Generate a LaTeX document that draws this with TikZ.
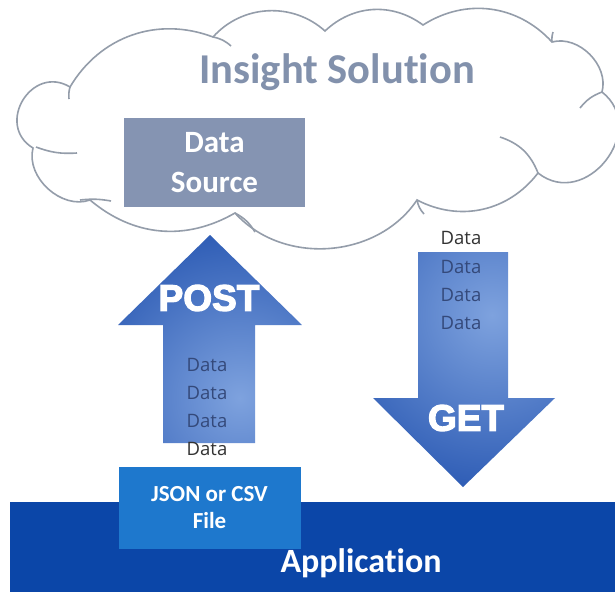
\documentclass[tikz,border=0pt]{standalone}
\usepackage{fontspec}
\setmainfont{Carlito}[Ligatures=NoCommon]
\newfontfamily\heavyfont{Liberation Sans}
\newfontfamily\datafont{Open Sans}
\definecolor{cloudgray}{HTML}{949DAA}
\definecolor{insight}{HTML}{8291AC}
\definecolor{dsfill}{HTML}{8594B2}
\definecolor{arrowlight}{HTML}{7EA2DE}
\definecolor{arrowdark}{HTML}{1A4BAB}
\definecolor{appblue}{HTML}{0B46A8}
\definecolor{jsonblue}{HTML}{1E78CD}
\definecolor{datain}{HTML}{34497A}
\definecolor{dataout}{HTML}{333333}
\tikzset{
  cloudline/.style={draw=cloudgray, line width=1.6pt},
  curl/.style={draw=cloudgray, line width=1.6pt},
  boxlabel/.style={text=white, font=\bfseries, align=center, inner sep=0pt},
  datatext/.style={font=\datafont\fontsize{18.5}{20}\selectfont, inner sep=0pt},
  bigverb/.style={text=white, inner sep=0pt, font=\heavyfont\bfseries\fontsize{37}{40}\selectfont}
}
\newcommand{\thickwhite}[1]{\special{pdf:literal 2 Tr 1.2 w 1 1 1 RG}#1\special{pdf:literal 0 Tr}}
\begin{document}
\begin{tikzpicture}[x=1pt,y=-1pt]
\useasboundingbox (0,0) rectangle (615,592);
\clip (0,0) rectangle (615,592);
\fill[white] (0,0) rectangle (615,592);

% cloud
\coordinate (A) at (70,87);
\coordinate (B) at (213,37);
\coordinate (F) at (325,31);
\coordinate (G) at (423,25);
\coordinate (H) at (552,42);
\coordinate (I) at (602,92);
\coordinate (K) at (538,173);
\coordinate (L) at (417,200);
\coordinate (E) at (235,213);
\coordinate (D) at (90,200);
\coordinate (C) at (33,148);
\draw[cloudline, fill=white] (C) to[bend left=90, looseness=1.6] (A)
  to[bend left=40] (B) to[bend left=45] (F) to[bend left=40] (G)
  to[bend left=40] (H) to[bend left=60] (I) to[bend left=90, looseness=1.5] (K)
  to[bend left=40] (L) to[bend left=52] (E)
  to[bend left=35] (D) to[bend left=62] (C) -- cycle;
% curls
\coordinate (cA) at (69,99);
\coordinate (cB) at (231,46);
\coordinate (cC) at (77,153);
\coordinate (cD) at (111,201);
\coordinate (cE) at (255,232);
\coordinate (cL) at (424,214);
\coordinate (cK) at (500,137);
\coordinate (cI) at (580,108);
\coordinate (cH) at (553,32);
\draw[curl] (A) to[bend right=10] (cA);
\draw[curl] (B) to[bend left=15] (cB);
\draw[curl] (C) ++(3,-1) to[bend right=12] (cC);
\draw[curl] (D) ++(-10,0) to[bend left=8] (cD);
\draw[curl] (E) to[bend left=15] (cE);
\draw[curl] (L) to[bend right=15] (cL);
\draw[curl] (K) to[bend right=25] (cK);
\draw[curl] (I) to[bend right=15] (cI);
\draw[curl] (H) to[bend left=10] (cH);

\node[text=insight, inner sep=0pt, font=\bfseries\fontsize{42.5}{50}\selectfont] (title) at (337,72) {Insight Solution};

\node[fill=dsfill, minimum width=181pt, minimum height=89pt, boxlabel,
  font=\bfseries\fontsize{31}{40}\selectfont] (ds) at (214.5,162.5) {Data\\Source};

% POST arrow
\begin{scope}
\clip (163,443) -- (163,325) -- (118,325) -- (210,235) -- (302,325) -- (255,325) -- (255,443) -- cycle;
\shade[inner color=arrowlight, outer color=arrowdark] (240,398) circle (210);
\end{scope}
% GET arrow
\begin{scope}
\clip (418,252) -- (508,252) -- (508,398) -- (555,398) -- (463,487) -- (373,398) -- (418,398) -- cycle;
\shade[inner color=arrowlight, outer color=arrowdark] (492,315) circle (220);
\end{scope}

\node[bigverb] (post) at (209,298) {\thickwhite{POST}};
\node[bigverb] (get) at (466,418) {\thickwhite{GET}};

% application bar and file box
\node[fill=appblue, minimum width=605pt, minimum height=90pt, inner sep=0pt, anchor=north west] (app) at (10,502) {};
\node[boxlabel, anchor=base, font=\bfseries\fontsize{34}{40}\selectfont] (apptext) at (361,572) {Application};
\node[fill=jsonblue, minimum width=182pt, minimum height=82pt, boxlabel,
  font=\bfseries\fontsize{23}{27}\selectfont] (json) at (209.5,507.5) {JSON or CSV\\File};

% data labels
\node[datatext, text=datain] (pd1) at (207,365) {Data};
\node[datatext, text=datain] (pd2) at (207,393) {Data};
\node[datatext, text=datain] (pd3) at (207,421) {Data};
\node[datatext, text=dataout] (pd4) at (207,449) {Data};
\node[datatext, text=dataout] (gd1) at (461,238) {Data};
\node[datatext, text=datain] (gd2) at (461,267) {Data};
\node[datatext, text=datain] (gd3) at (461,295) {Data};
\node[datatext, text=datain] (gd4) at (461,323) {Data};
\end{tikzpicture}
\end{document}
